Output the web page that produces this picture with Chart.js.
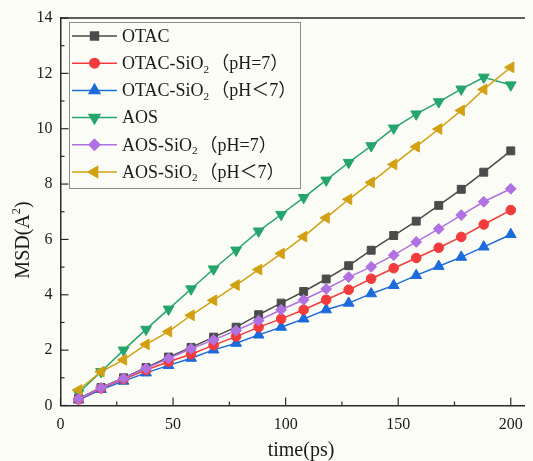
<!DOCTYPE html>
<html>
<head>
<meta charset="utf-8">
<script src="https://cdn.jsdelivr.net/npm/chart.js@4.4.0/dist/chart.umd.min.js"></script>
<style>
  html, body { margin: 0; padding: 0; background: #fcfcf7; }
  #grafico { display: block; }
</style>
</head>
<body>
<canvas id="grafico" width="533" height="461"></canvas>
<script>
// tempo (ps) de cada ponto
const tempos = [8, 18, 28, 38, 48, 58, 68, 78, 88, 98, 108, 118, 128, 138, 148, 158, 168, 178, 188, 200];

// MSD de cada sistema
const otac = [0.25, 0.65, 1.00, 1.37, 1.75, 2.10, 2.47, 2.83, 3.28, 3.70, 4.12, 4.57, 5.05, 5.61, 6.14, 6.66, 7.23, 7.81, 8.43, 9.20];
const otacSio2Ph7 = [0.22, 0.62, 0.95, 1.28, 1.58, 1.85, 2.18, 2.49, 2.83, 3.13, 3.46, 3.82, 4.18, 4.58, 4.96, 5.33, 5.70, 6.09, 6.54, 7.06];
const otacSio2Acido = [0.20, 0.58, 0.88, 1.18, 1.45, 1.71, 2.01, 2.25, 2.55, 2.83, 3.13, 3.46, 3.70, 4.04, 4.34, 4.70, 5.03, 5.36, 5.73, 6.18];
const aos = [0.45, 1.22, 2.00, 2.75, 3.48, 4.21, 4.93, 5.61, 6.30, 6.90, 7.51, 8.14, 8.78, 9.38, 10.02, 10.53, 10.97, 11.43, 11.86, 11.58];
const aosSio2Ph7 = [0.24, 0.64, 0.98, 1.34, 1.70, 2.05, 2.37, 2.71, 3.07, 3.46, 3.82, 4.21, 4.64, 5.01, 5.43, 5.91, 6.38, 6.88, 7.36, 7.83];
const aosSio2Acido = [0.56, 1.22, 1.65, 2.21, 2.67, 3.26, 3.80, 4.35, 4.91, 5.49, 6.10, 6.78, 7.45, 8.06, 8.71, 9.35, 9.99, 10.66, 11.42, 12.22];

const nomes = ['OTAC', 'OTAC-SiO₂（pH=7）', 'OTAC-SiO₂（pH＜7）', 'AOS', 'AOS-SiO₂（pH=7）', 'AOS-SiO₂（pH＜7）'];
const ticksX = [0, 50, 100, 150, 200];
const ticksY = [0, 2, 4, 6, 8, 10, 12, 14];

const fonte = "'Liberation Serif', 'Times New Roman', 'Noto Sans CJK SC', serif";
const corEixo = '#2a2a2a';
const fundo = '#fcfcf7';

function serie(nome, valores, cor, estilo, raio, rotacao, ordem) {
  return {
    label: nome,
    data: tempos.map((t, i) => ({ x: t, y: valores[i] })),
    borderColor: cor,
    backgroundColor: cor,
    borderWidth: 1.5,
    pointStyle: estilo,
    pointRadius: raio,
    pointHoverRadius: raio,
    pointRotation: rotacao,
    pointBorderWidth: 1,
    tension: 0,
    order: ordem
  };
}

// escreve texto com ₂ (subscrito) e ² (sobrescrito), alinhado à esquerda
function textoComIndice(ctx, texto, x, y, tam, medir) {
  let pos = x;
  const pedacos = texto.split(/([₂²（）])/);
  for (const p of pedacos) {
    if (!p) continue;
    if (p === '₂' || p === '²') {
      ctx.font = `${tam * 0.62}px ${fonte}`;
      const dy = p === '₂' ? tam * 0.3 : -tam * 0.38;
      if (!medir) ctx.fillText('2', pos, y + dy);
      pos += ctx.measureText('2').width;
    } else if (p === '（' || p === '）') {
      // parênteses largos, com folga
      ctx.font = `${tam}px ${fonte}`;
      const w = ctx.measureText(p).width;
      if (!medir) ctx.fillText(p, pos + (p === '（' ? 2 : 0), y);
      pos += w + 2;
    } else {
      ctx.font = `${tam}px ${fonte}`;
      if (!medir) ctx.fillText(p, pos, y);
      pos += ctx.measureText(p).width;
    }
  }
  return pos - x;
}

const enfeites = {
  id: 'enfeites',
  beforeDraw(chart) {
    const ctx = chart.ctx;
    ctx.save();
    ctx.fillStyle = fundo;
    ctx.fillRect(0, 0, chart.width, chart.height);
    ctx.restore();
  },
  afterDraw(chart) {
    const { ctx, chartArea: a, scales: { x, y } } = chart;
    ctx.save();
    ctx.strokeStyle = corEixo;
    ctx.lineWidth = 1.5;

    // linha de cima da moldura
    ctx.beginPath();
    ctx.moveTo(a.left, a.top);
    ctx.lineTo(a.right, a.top);
    ctx.stroke();

    // marcas para dentro
    ctx.lineWidth = 1.2;
    for (let v = 0; v <= x.max; v += 25) {
      const px = x.getPixelForValue(v);
      const tam = v % 50 === 0 ? 8 : 4;
      ctx.beginPath();
      ctx.moveTo(px, a.bottom);
      ctx.lineTo(px, a.bottom - tam);
      ctx.stroke();
    }
    for (let v = 0; v <= 14; v += 1) {
      const py = y.getPixelForValue(v);
      const tam = v % 2 === 0 ? 8 : 4;
      ctx.beginPath();
      ctx.moveTo(a.left, py);
      ctx.lineTo(a.left + tam, py);
      ctx.stroke();
    }

    // títulos dos eixos
    ctx.fillStyle = '#1a1a1a';
    ctx.textBaseline = 'middle';
    ctx.textAlign = 'center';
    ctx.font = `20px ${fonte}`;
    ctx.fillText('time(ps)', 301, 451);

    ctx.save();
    ctx.translate(24, 240);
    ctx.rotate(-Math.PI / 2);
    ctx.textAlign = 'left';
    const larg = textoComIndice(ctx, 'MSD(A²)', 0, 0, 20, true);
    textoComIndice(ctx, 'MSD(A²)', -larg / 2, 0, 20, false);
    ctx.restore();

    // legenda
    const caixa = { x: 69.5, y: 22.5, w: 231, h: 166 };
    ctx.fillStyle = fundo;
    ctx.fillRect(caixa.x, caixa.y, caixa.w, caixa.h);
    ctx.strokeStyle = '#8c8c8c';
    ctx.lineWidth = 1;
    ctx.strokeRect(caixa.x, caixa.y, caixa.w, caixa.h);

    chart.data.datasets.forEach((ds, i) => {
      const ly = 36 + i * 27.2;
      ctx.strokeStyle = ds.borderColor;
      ctx.fillStyle = ds.backgroundColor;
      ctx.lineWidth = 1.5;
      ctx.beginPath();
      ctx.moveTo(72, ly);
      ctx.lineTo(117, ly);
      ctx.stroke();
      Chart.helpers.drawPoint(ctx, {
        pointStyle: ds.pointStyle,
        radius: ds.pointRadius,
        rotation: ds.pointRotation,
        borderWidth: 1
      }, 94.5, ly);
      ctx.fillStyle = '#1a1a1a';
      ctx.textAlign = 'left';
      ctx.textBaseline = 'middle';
      textoComIndice(ctx, ds.label, 122, ly + 1, 18, false);
    });
    ctx.restore();
  }
};

const ctx = document.getElementById('grafico').getContext('2d');
const grafico = new Chart(ctx, {
  type: 'line',
  data: {
    datasets: [
      serie(nomes[0], otac, '#4b4b4b', 'rect', 5.6, 0, 4),
      serie(nomes[1], otacSio2Ph7, '#f23b3b', 'circle', 4.8, 0, 2),
      serie(nomes[2], otacSio2Acido, '#1c6bdc', 'triangle', 6.2, 0, 3),
      serie(nomes[3], aos, '#24a56b', 'triangle', 6.2, 180, 5),
      serie(nomes[4], aosSio2Ph7, '#b071e2', 'rectRot', 5.4, 0, 0),
      serie(nomes[5], aosSio2Acido, '#d2a113', 'triangle', 6.2, -90, 1)
    ]
  },
  options: {
    responsive: false,
    animation: false,
    devicePixelRatio: 1,
    layout: { padding: { left: 0, right: 0, top: 18, bottom: 0 } },
    plugins: {
      legend: { display: false },
      tooltip: { enabled: false }
    },
    scales: {
      x: {
        type: 'linear',
        min: 0,
        max: 206.3,
        afterBuildTicks: s => { s.ticks = ticksX.map(v => ({ value: v })); },
        afterFit: s => { s.height = 55.5; },
        ticks: { font: { family: fonte, size: 16 }, color: '#1a1a1a', padding: 10, maxRotation: 0, autoSkip: false },
        grid: { display: false, drawTicks: false },
        border: { display: true, color: corEixo, width: 1.5 }
      },
      y: {
        min: 0,
        max: 14,
        afterBuildTicks: s => { s.ticks = ticksY.map(v => ({ value: v })); },
        afterFit: s => { s.width = 60.5; },
        ticks: { font: { family: fonte, size: 16 }, color: '#1a1a1a', padding: 8 },
        grid: { display: false, drawTicks: false },
        border: { display: true, color: corEixo, width: 1.5 }
      }
    }
  },
  plugins: [enfeites]
});
</script>
</body>
</html>
